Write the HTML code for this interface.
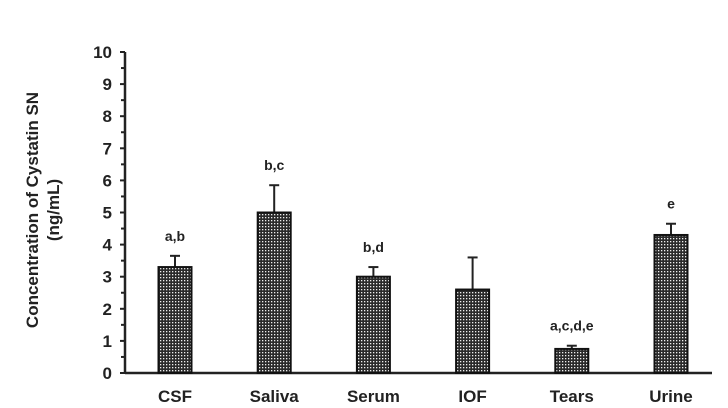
<!DOCTYPE html>
<html><head><meta charset="utf-8"><style>
body{margin:0;background:#fff;}
svg text{font-family:"Liberation Sans",Arial,sans-serif;font-weight:bold;fill:#222;}
</style></head><body>
<svg id="chart" width="728" height="403" viewBox="0 0 728 403" xmlns="http://www.w3.org/2000/svg">
<defs>
<pattern id="dots" width="3" height="3" patternUnits="userSpaceOnUse">
<rect width="3" height="3" fill="#2a2a2a"/>
<rect x="1" y="1" width="1.3" height="1.3" fill="#eee"/>
</pattern>
</defs>
<g id="yaxis"></g>
<g id="bars"></g>
<text transform="translate(38,210) rotate(-90)" text-anchor="middle" font-size="17">Concentration of Cystatin SN</text>
<text transform="translate(59,210) rotate(-90)" text-anchor="middle" font-size="17">(ng/mL)</text>
</svg>
<script>
const categories = ["CSF","Saliva","Serum","IOF","Tears","Urine"];
const values = [3.3, 5.0, 3.0, 2.6, 0.75, 4.3];
const errors = [0.35, 0.85, 0.3, 1.0, 0.1, 0.35];
const sigLabels = ["a,b","b,c","b,d","","a,c,d,e","e"];
const yTicks = [0,1,2,3,4,5,6,7,8,9,10];

const NS="http://www.w3.org/2000/svg";
const x0=125, x1=712, y0=373, yTop=52;
const yS=v=>y0-(v/10)*(y0-yTop);
const firstC=175, step=99.2, bw=33;
const xC=i=>firstC+i*step;
function mk(t,a,p){const e=document.createElementNS(NS,t);for(const k in a)e.setAttribute(k,a[k]);p.appendChild(e);return e;}
const ya=document.getElementById('yaxis');
const ax=mk('line',{x1:x0,y1:yTop,x2:x0,y2:y0+1,stroke:'#222','stroke-width':2.5},ya);


yTicks.forEach(t=>{
  const tk=mk('line',{x1:x0-5,y1:yS(t),x2:x0,y2:yS(t),stroke:'#222','stroke-width':2},ya);
  
  
  if(t<10){const m=mk('line',{x1:x0-4,y1:yS(t+0.5),x2:x0,y2:yS(t+0.5),stroke:'#222','stroke-width':2},ya);
    
    }
  const tl=mk('text',{x:x0-13,y:yS(t)+6,'text-anchor':'end','font-size':17},ya);
  tl.textContent=t;
  
  
});
const xa=mk('line',{x1:x0,y1:y0,x2:x1,y2:y0,stroke:'#222','stroke-width':2.5},ya);


const bg=document.getElementById('bars');
categories.forEach((c,i)=>{
  const cx=xC(i), top=yS(values[i]), et=yS(values[i]+errors[i]);
  const el=mk('line',{x1:cx,y1:et,x2:cx,y2:top,stroke:'#222','stroke-width':2},bg);
  
  
  const cap=mk('line',{x1:cx-5,y1:et,x2:cx+5,y2:et,stroke:'#222','stroke-width':2},bg);
  
  
  const r=mk('rect',{x:cx-bw/2,y:top,width:bw,height:y0-top,fill:'url(#dots)',stroke:'#111','stroke-width':2},bg);
  
  
  const lb=mk('text',{x:cx,y:y0+29,'text-anchor':'middle','font-size':17},bg);
  lb.textContent=c;
  
  
  if(sigLabels[i]){
    const s=mk('text',{x:cx,y:et-15,'text-anchor':'middle','font-size':14},bg);
    s.textContent=sigLabels[i];
    
    
  }
});
</script>
</body></html>
